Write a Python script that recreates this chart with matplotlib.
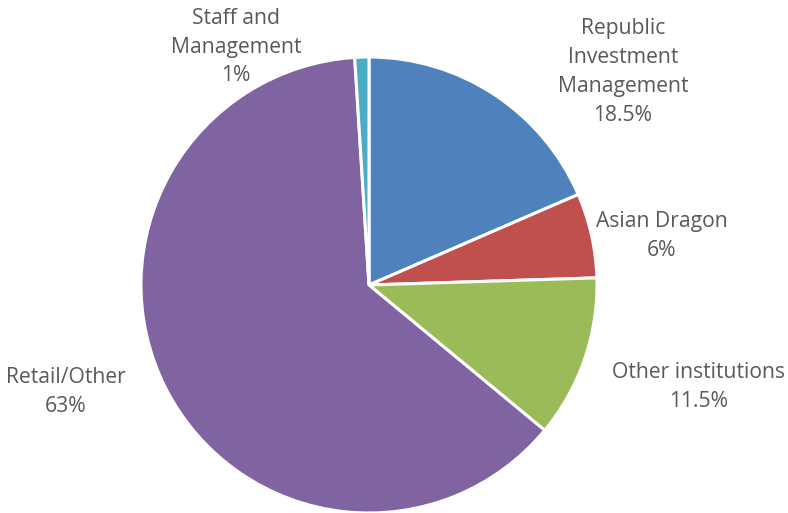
import matplotlib
matplotlib.use("Agg")
import matplotlib.pyplot as plt

categories = ["Republic\nInvestment\nManagement", "Asian Dragon", "Other institutions", "Retail/Other", "Staff and\nManagement"]
values = [18.5, 6, 11.5, 63, 1]
value_labels = ["18.5%", "6%", "11.5%", "63%", "1%"]
colors = ["#4F81BD", "#C0504D", "#9BBB59", "#8064A2", "#4BACC6"]

# label centre positions in pixels (x from left, y from top)
label_pos = [(623, 72), (662, 236), (699, 387), (66, 392), (236, 47)]

W, H = 788, 513
fig = plt.figure(figsize=(W / 100, H / 100), dpi=100)
ax = fig.add_axes([0, 0, 1, 1])

cx, cy, r = 369, H - 285, 228
ax.pie(values, colors=colors, startangle=90, counterclock=False,
       center=(cx, cy), radius=r, frame=True,
       wedgeprops=dict(edgecolor="white", linewidth=2.2))
ax.set_xlim(0, W)
ax.set_ylim(0, H)
ax.set_aspect("equal")
ax.axis("off")

for cat, vl, (px, py) in zip(categories, value_labels, label_pos):
    ax.text(px, H - py, f"{cat}\n{vl}", ha="center", va="center",
            fontsize=15.2, color="#595959", family="Open Sans", linespacing=1.48)

fig.savefig("out.png", dpi=100)
